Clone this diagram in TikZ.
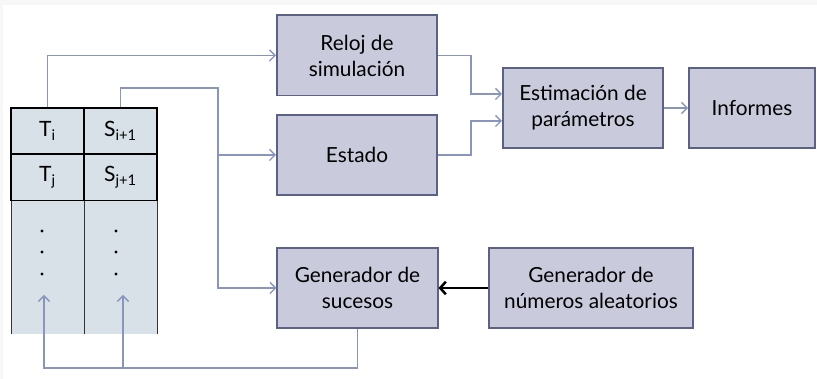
\documentclass[tikz,border=0pt]{standalone}
\usepackage{fontspec}
\setmainfont{Lato}
\usetikzlibrary{calc,arrows.meta}

\definecolor{boxfill}{HTML}{C9CBDD}
\definecolor{boxline}{HTML}{5B6285}
\definecolor{linkcol}{HTML}{8A95BD}
\definecolor{tabfill}{HTML}{D8E1E8}

\tikzset{
	block/.style={draw=boxline,fill=boxfill,line width=1.4pt,minimum width=4cm,minimum height=2cm,align=center,font=\fontsize{14.8}{18.5}\selectfont},
	cell/.style={draw=black,fill=tabfill,line width=1.4pt,minimum width=1.825cm,minimum height=1.15cm,inner sep=0pt,font=\fontsize{15}{17}\selectfont},
	link/.style={draw=linkcol,line width=0.9pt,-{Straight Barb[length=4pt,width=8pt]}},
}

\begin{document}
\begin{tikzpicture}[x=0.025cm,y=-0.025cm]
	\useasboundingbox (0,0) rectangle (817,379);
	\fill [gray!6] (0,0) rectangle (817,379);
	\fill [white] (3,5) rectangle (817,379);
	% tabla de sucesos
	\fill [tabfill] (11,201) rectangle (157,334);
	\draw [black!80,line width=0.7pt] (11,201) -- (11,334) (84,201) -- (84,334) (157,201) -- (157,334);
	\node[cell] (ti) at (47.5,131) {T\textsubscript{i}};
	\node[cell] (si) at (120.5,131) {S\textsubscript{i+1}};
	\node[cell] (tj) at (47.5,177.5) {T\textsubscript{j}};
	\node[cell] (sj) at (120.5,177.5) {S\textsubscript{j+1}};
	\fill [black] (42,231) circle(1.1pt) (42,252) circle(1.1pt) (42,274) circle(1.1pt);
	\fill [black] (116,231) circle(1.1pt) (116,252) circle(1.1pt) (116,274) circle(1.1pt);
	% bloques
	\node[block] (reloj) at (357,55.5) {Reloj de\\simulación};
	\node[block] (estado) at (357,155) {Estado};
	\node[block] (gsuc) at (357.5,288) {Generador de\\sucesos};
	\node[block,minimum width=5.1cm] (gna) at (591,288) {Generador de\\números aleatorios};
	\node[block] (estim) at (583,108) {Estimación de\\parámetros};
	\node[block,minimum width=3.15cm] (inf) at (752,108) {Informes};
	% conexiones
	\coordinate (bus) at (218,88);
	\coordinate (up1) at (44,295);
	\coordinate (up2) at (123,295);
	\draw[link] (ti.north) |- (reloj.west);
	\draw[link] (si.north) |- (bus) |- (gsuc.west);
	\draw[link] (bus |- estado.west) -- (estado.west);
	\draw[link] (reloj.east) -- ++(33,0) |- ($(estim.west)+(0,-14)$);
	\draw[link] (estado.east) -- ++(33,0) |- ($(estim.west)+(0,13)$);
	\draw[link] (estim.east) -- (inf.west);
	\draw[-{Straight Barb[length=4pt,width=9pt]},line width=1.8pt] (gna.west) -- (gsuc.east);
	\draw[link] (gsuc.south) -- ++(0,39) -| (up1);
	\draw[link] (up2 |- 0,367) -- (up2);
\end{tikzpicture}
\end{document}
